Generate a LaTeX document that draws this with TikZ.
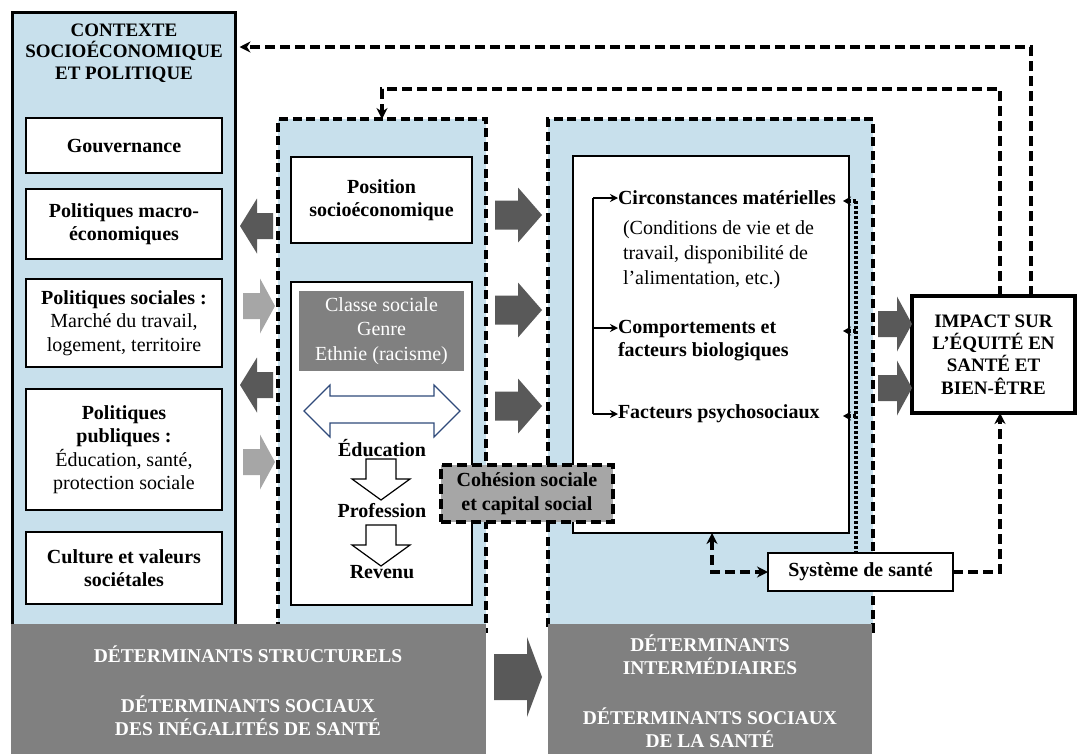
\documentclass[tikz,border=0pt]{standalone}
\usepackage{fontspec}
\setmainfont{Liberation Serif}
\usetikzlibrary{arrows.meta,calc}

\definecolor{paleblue}{RGB}{200,224,236}
\definecolor{bargray}{RGB}{128,128,128}
\definecolor{darkarrow}{RGB}{89,89,89}
\definecolor{lightarrow}{RGB}{166,166,166}
\definecolor{cohgray}{RGB}{166,166,166}
\definecolor{outlineblue}{RGB}{47,74,122}

% filled block arrow: colour, tail x, tip x, centre y, head length (signed), shaft half-width, head half-width
\newcommand\blockarrow[7]{%
  \fill[#1] ({#2},{#4-(#6)}) -- ({#3-(#5)},{#4-(#6)}) -- ({#3-(#5)},{#4-(#7)}) -- ({#3},{#4})
    -- ({#3-(#5)},{#4+(#7)}) -- ({#3-(#5)},{#4+(#6)}) -- ({#2},{#4+(#6)}) -- cycle;}

% hollow downward arrow: centre x, top y, head base y, tip y
\newcommand\hollowdown[4]{%
  \filldraw[fill=white, draw=black, line width=1.2pt]
    ({#1-15},{#2}) -- ({#1+15},{#2}) -- ({#1+15},{#3}) -- ({#1+29},{#3}) -- ({#1},{#4})
    -- ({#1-29},{#3}) -- ({#1-15},{#3}) -- cycle;}

\begin{document}
\begin{tikzpicture}[x=1pt,y=-1pt,
  every node/.style={inner sep=0pt, outer sep=0pt, align=center, font=\fontsize{20}{23.5}\selectfont},
  bold/.style={font=\fontsize{20}{23.5}\selectfont\bfseries},
  caps/.style={font=\fontsize{19}{21.5}\selectfont\bfseries},
  nwbox/.style={anchor=north west},
  whitebox/.style={nwbox, draw=black, line width=1.3pt, fill=white},
  ctxframe/.style={nwbox, draw=black, line width=3.5pt, fill=paleblue},
  dashframe/.style={nwbox, draw=black, line width=3.6pt, dash pattern=on 9pt off 4.5pt, fill=paleblue},
  feedback/.style={draw=black, line width=3.6pt, dash pattern=on 10pt off 5pt, -{Stealth[length=11pt,width=11pt]}},
  dotlink/.style={draw=black, line width=3.6pt, dash pattern=on 3pt off 2pt},
  thinlink/.style={draw=black, line width=1.3pt},
  smalltip/.style={-{Stealth[length=8pt,width=8pt]}},
  footbar/.style={nwbox, fill=bargray},
  bartext/.style={text=white, font=\fontsize{19.5}{23}\selectfont\bfseries},
]
\useasboundingbox (0,0) rectangle (1078,753);

% ---------- structural context ----------
\node[ctxframe, minimum width=223, minimum height=620] (ctx) at (12.5,12.5) {};
\node[caps] (ctxtitle) at (124,53) {CONTEXTE\\SOCIOÉCONOMIQUE\\ET POLITIQUE};
\node[whitebox, bold, minimum width=196, minimum height=55] (gov) at (26,118) {Gouvernance};
\node[whitebox, bold, minimum width=196, minimum height=70] (macro) at (26,189) {Politiques macro-\\économiques};
\node[whitebox, minimum width=196, minimum height=88] (soc) at (26,279) {\textbf{Politiques sociales :}\\Marché du travail,\\logement, territoire};
\node[whitebox, minimum width=196, minimum height=121] (pub) at (26,389) {\textbf{Politiques}\\\textbf{publiques :}\\Éducation, santé,\\protection sociale};
\node[whitebox, bold, minimum width=196, minimum height=72] (cult) at (26,532) {Culture et valeurs\\sociétales};

% ---------- socioeconomic position ----------
\node[dashframe, minimum width=208, minimum height=512] (struct) at (278,119) {};
\node[whitebox, bold, minimum width=181, minimum height=86] (pos) at (291,157) {Position\\socioéconomique};
\node[whitebox, minimum width=181, minimum height=323] (posbig) at (291,282) {};
\node[nwbox, fill=bargray, text=white, font=\fontsize{20}{24.5}\selectfont, minimum width=165, minimum height=80] (classe) at (299,291) {Classe sociale\\Genre\\Ethnie (racisme)};
\filldraw[fill=white, draw=outlineblue, line width=1.2pt]
  (304,411) -- (330,385) -- (330,396) -- (434,396) -- (434,385) -- (460,411)
  -- (434,437) -- (434,423) -- (330,423) -- (330,437) -- cycle;
\node[bold] (educ) at (382,448) {Éducation};
\hollowdown{381}{459}{479}{500}
\node[bold] (prof) at (382,511) {Profession};
\hollowdown{381}{525}{545}{566}
\node[bold] (rev) at (382,572) {Revenu};

% ---------- intermediary determinants ----------
\node[dashframe, minimum width=325, minimum height=512] (interm) at (548,119) {};
\node[whitebox, minimum width=276, minimum height=377] (inner) at (573,156) {};
\node[bold, anchor=west] (circ) at (618,198) {Circonstances matérielles};
\node[anchor=west, align=left, font=\fontsize{20}{25}\selectfont] (cond) at (623,255) {(Conditions de vie et de\\travail, disponibilité de\\l’alimentation, etc.)};
\node[bold, anchor=west, align=left] (comp) at (618,340.5) {Comportements et\\facteurs biologiques};
\node[bold, anchor=west] (psy) at (618,414) {Facteurs psychosociaux};

% bracket linking the three groups of factors
\coordinate (brtop) at (593,198);
\coordinate (brmid) at (593,328);
\coordinate (brbot) at (593,414);
\draw[thinlink] (brtop) -- (brbot);
\draw[thinlink, smalltip] (brtop) -- (circ.west);
\draw[thinlink, smalltip] (brmid) -- (brmid -| comp.west);
\draw[thinlink, smalltip] (brbot) -- (psy.west);

% health system
\node[whitebox, bold, minimum width=185, minimum height=38] (sys) at (768,553) {Système de santé};
\coordinate (dt1) at (856,201);
\coordinate (dt2) at (856,331);
\coordinate (dt3) at (856,416);
\coordinate (de1) at (843,201);
\coordinate (de2) at (843,331);
\coordinate (de3) at (843,416);
\draw[dotlink] (dt1) -- (dt1 |- sys.north);
\draw[dotlink, -{Stealth[length=8pt,width=9pt]}] (dt1) -- (de1);
\draw[dotlink, -{Stealth[length=8pt,width=9pt]}] (dt2) -- (de2);
\draw[dotlink, -{Stealth[length=8pt,width=9pt]}] (dt3) -- (de3);

% cohesion
\node[nwbox, draw=black, line width=3.8pt, dash pattern=on 10pt off 5pt, fill=cohgray, bold, minimum width=172, minimum height=57] (coh) at (441,465) {Cohésion sociale\\et capital social};

% ---------- impact ----------
\node[nwbox, draw=black, line width=3.6pt, fill=white, font=\fontsize{19}{22.3}\selectfont\bfseries, minimum width=163, minimum height=117] (impact) at (912,296) {IMPACT SUR\\L’ÉQUITÉ EN\\SANTÉ ET\\BIEN-ÊTRE};

% feedback loops
\coordinate (fb1) at (0,47);
\coordinate (fb2) at (382,89);
\draw[feedback, shorten >=4pt] ($(impact.north west)+(119,0)$) |- (ctx.east |- fb1);
\draw[feedback] ($(impact.north west)+(88,0)$) |- (fb2) -- (fb2 |- struct.north);
\draw[feedback, {Stealth[length=11pt,width=11pt]}-{Stealth[length=11pt,width=11pt]}]
  ($(inner.south west)+(139,0)$) |- (sys.west);
\draw[feedback] (sys.east) -| ($(impact.south west)+(88,0)$);

% ---------- bottom bars ----------
\node[footbar, minimum width=475, minimum height=130] (sbar) at (11,624) {};
\node[footbar, minimum width=324, minimum height=130] (ibar) at (548,624) {};
\node[bartext] (st1) at (248,654) {DÉTERMINANTS STRUCTURELS};
\node[bartext] (st2) at (248,715.5) {DÉTERMINANTS SOCIAUX\\DES INÉGALITÉS DE SANTÉ};
\node[bartext] (in1) at (710,654.5) {DÉTERMINANTS\\INTERMÉDIAIRES};
\node[bartext] (in2) at (710,727.5) {DÉTERMINANTS SOCIAUX\\DE LA SANTÉ};

% ---------- block arrows ----------
\blockarrow{darkarrow}{273}{240}{226}{-17}{13}{27.5}
\blockarrow{lightarrow}{243}{275}{306}{15}{13}{27.5}
\blockarrow{darkarrow}{273}{240}{385}{-17}{13}{27.5}
\blockarrow{lightarrow}{243}{275}{462}{15}{13}{27.5}
\blockarrow{darkarrow}{495}{542}{215}{24}{14.5}{27.5}
\blockarrow{darkarrow}{495}{542}{310}{24}{14.5}{27.5}
\blockarrow{darkarrow}{495}{542}{406}{24}{14.5}{27.5}
\blockarrow{darkarrow}{878}{912}{324}{15}{13}{27.5}
\blockarrow{darkarrow}{878}{912}{388}{15}{13}{27.5}
\blockarrow{darkarrow}{494}{542}{677}{15}{23}{40}
\end{tikzpicture}
\end{document}
